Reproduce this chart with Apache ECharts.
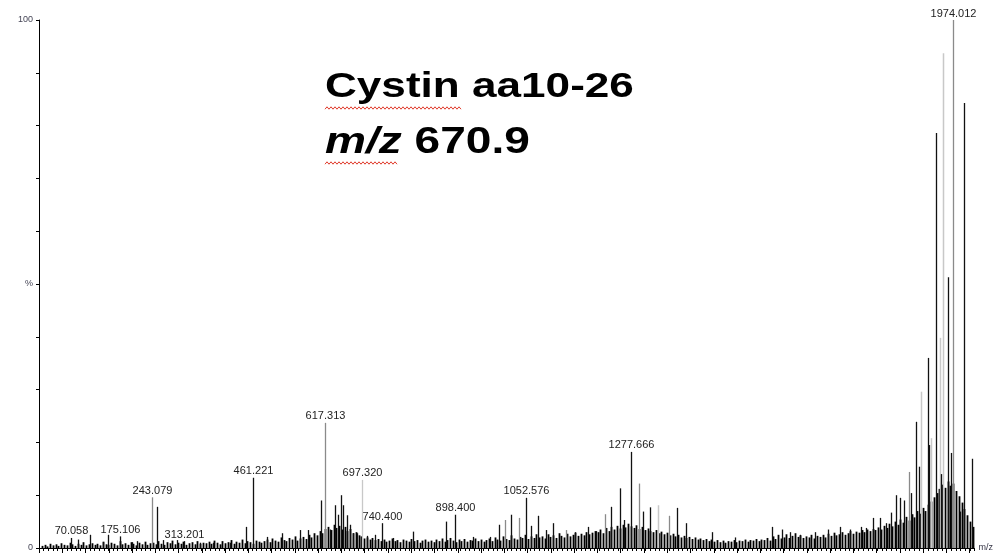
<!DOCTYPE html>
<html><head><meta charset="utf-8">
<script src="https://cdn.jsdelivr.net/npm/echarts@6/dist/echarts.min.js"></script>
<style>html,body{margin:0;padding:0;background:#fff}#c{width:996px;height:556px}</style>
</head><body><div id="c"></div>
<script>
// ---- data (m/z, relative intensity %) ----
const titleLine1 = 'Cystin aa10-26';
const titleMz = 'm/z';
const titleValue = '670.9';
const yTickLabels = {0: '0', 50: '%', 100: '100'};
const xAxisName = 'm/z';

// labelled peaks
const labeledPeaks = [[70.058,1.9],[175.106,2.2],[243.079,9.6],[313.201,1.3],[461.221,13.3],[617.313,23.7],[697.320,12.9],[740.400,4.7],[898.400,6.3],[1052.576,9.5],[1277.666,18.2],[1974.012,100]];
const labeledText = ['70.058','175.106','243.079','313.201','461.221','617.313','697.320','740.400','898.400','1052.576','1277.666','1974.012'];

// unlabelled sticks
const darkPeaks = [[84.0,1.6],[109.9,2.5],[138.0,1.1],[148.8,2.5],[200.6,1.1],[211.4,1.3],[254.6,7.8],[267.5,1.5],[297.7,1.5],[347.4,1.0],[375.4,1.0],[412.1,1.0],[446.7,4.0],[491.3,2.1],[523.7,2.8],[563.2,3.4],[580.5,3.4],[607.9,9.0],[628.0,3.5],[638.8,8.1],[645.2,6.3],[651.1,10.0],[656.7,8.1],[664.0,6.2],[671.1,4.4],[677.6,2.8],[685.6,2.8],[707.2,2.3],[725.1,2.5],[764.0,1.9],[807.1,3.1],
[879.9,5.0],[936.6,2.1],[973.3,2.1],[993.4,4.4],[1020.2,6.3],[1063.3,4.2],[1077.6,6.1],[1095.7,3.4],[1110.0,4.7],[1156.8,3.0],[1184.8,4.0],[1203.6,3.2],[1236.0,7.8],[1255.4,11.3],[1262.5,5.3],[1303.5,6.9],[1320.2,7.7],[1376.9,7.6],[1396.4,4.7],
[1452.5,3.0],[1502.2,2.0],[1582.0,4.0],[1603.6,3.5],[1620.9,3.0],[1642.5,2.5],[1674.9,3.0],[1703.0,3.5],[1728.9,4.0],[1750.5,3.5],
[1775.6,4.0],[1786.4,3.8],[1800.0,5.7],[1815.1,5.7],[1829.6,4.7],[1840.3,6.7],[1851.1,10.0],[1859.8,9.5],[1866.9,9.0],[1883.5,10.4],[1892.8,23.9],[1899.3,15.4],[1918.7,36.0],[1920.9,19.5],[1936.0,78.6],[1948.3,14.0],[1962.5,51.3],[1969.9,18.0],[1987.8,6.9],[1996.4,84.3],[2015.2,16.9]];
const greyPeaks = [[1005.7,5.3],[1036.6,5.7],[1138.9,3.4],[1221.5,6.4],[1294.9,12.2],[1359.7,6.1],[1877.7,14.4]];
const lightPeaks = [[1335.9,8.1],[1905.1,29.6],[1926.7,20.8],[1944.6,39.8],[1951.7,93.7]];

// baseline noise, read every 6 m/z starting at m/z 6
const noiseStartMz = 6;
const noiseStepMz = 6;
const noiseLevels = [
0.4,0.6,0.3,0.8,0.5,0.7,0.4,0.9,0.6,0.5,1.0,0.7,0.4,0.8,0.6,1.1,0.5,0.7,0.9,0.6,
0.8,0.5,1.2,0.7,0.6,1.0,0.8,0.5,1.3,0.7,0.9,0.6,1.1,0.8,0.5,1.0,0.7,1.2,0.6,0.9,
1.0,0.7,1.3,0.8,0.6,1.1,0.9,1.4,0.7,1.0,0.8,1.2,0.6,0.9,1.1,0.7,1.3,0.8,1.0,0.9,
1.2,0.8,1.4,1.0,0.7,1.3,0.9,1.1,1.5,0.8,1.2,1.0,1.6,0.9,1.3,1.1,0.8,1.4,1.2,1.0,
1.3,1.6,1.1,1.8,1.4,1.2,2.0,1.5,1.3,1.9,1.6,2.2,1.4,1.8,2.1,1.7,2.5,2.0,2.8,2.4,
3.2,2.8,3.6,4.0,3.4,4.4,3.8,4.2,3.5,4.0,3.2,3.6,2.8,3.0,2.4,2.2,1.8,2.0,1.6,1.9,
1.5,1.7,1.3,1.6,1.2,1.4,1.8,1.3,1.5,1.1,1.6,1.4,1.2,1.7,1.3,1.5,1.0,1.4,1.6,1.2,
1.4,1.1,1.6,1.3,1.8,1.2,1.5,1.9,1.4,1.1,1.6,1.3,1.7,1.2,1.5,1.4,1.8,1.3,1.6,1.2,
1.5,1.8,1.3,2.0,1.6,1.4,2.2,1.7,1.5,2.4,1.8,1.6,2.1,1.9,2.5,1.7,2.2,1.9,2.6,2.0,
2.2,1.8,2.6,2.1,2.4,1.9,2.8,2.3,2.0,2.7,2.2,2.5,2.9,2.3,2.7,2.4,3.0,2.6,2.9,3.2,
3.0,3.5,2.8,3.8,3.2,4.0,3.5,4.2,3.7,4.4,3.9,4.6,4.1,3.8,4.3,3.6,4.0,3.4,3.7,3.2,
3.0,3.4,2.8,3.1,2.6,2.9,2.4,2.7,2.2,2.5,2.0,2.3,1.9,2.1,1.7,2.0,1.6,1.8,1.5,1.7,
1.3,1.6,1.2,1.5,1.1,1.4,1.0,1.3,1.2,1.5,1.1,1.4,1.3,1.6,1.2,1.5,1.4,1.7,1.3,1.6,
1.5,1.9,1.4,2.2,1.7,2.5,1.8,2.0,2.6,1.9,2.3,2.8,2.1,2.4,1.9,2.2,2.0,2.5,1.8,2.3,
2.1,2.5,2.0,2.7,2.3,2.9,2.4,2.6,3.0,2.5,2.8,3.2,2.7,3.1,2.9,3.4,3.0,3.5,3.2,3.6,
3.4,3.9,3.5,4.2,3.8,4.6,4.1,5.0,4.4,5.4,4.8,5.9,5.2,6.4,5.8,7.0,6.5,7.6,7.0,8.2,
8.8,9.6,10.4,11.2,12.0,11.4,12.6,11.8,12.2,10.8,9.8,8.6,7.4,6.2,5.0,4.0];

// ---- chart ----
const noiseData = noiseLevels.map((v, i) => [noiseStartMz + i * noiseStepMz, v]);
const greyLabeledIdx = new Set([2, 5, 11]);
const lightLabeledIdx = new Set([6]);

function stick(color, width) {
  return function (params, api) {
    const p0 = api.coord([api.value(0), 0]);
    const p1 = api.coord([api.value(0), api.value(1)]);
    const x = Math.round(p0[0]) + 0.5;
    return {type: 'line', shape: {x1: x, y1: p0[1], x2: x, y2: p1[1]},
      style: {stroke: color, lineWidth: width}};
  };
}
function zig(x0, x1, y) {
  const pts = [];
  for (let x = x0, k = 0; x <= x1; x += 2, k++) pts.push([x, y + (k % 2 ? -1.2 : 1.2)]);
  return pts;
}

const chart = echarts.init(document.getElementById('c'), null, {renderer: 'canvas'});
chart.setOption({
  animation: false,
  backgroundColor: '#fff',
  grid: [
    {left: 39, right: 17, top: 20, bottom: 8},
    {left: 39, right: 26.3, top: 20, bottom: 8}
  ],
  xAxis: [{
    type: 'value', min: 0, max: 2020, interval: 10, gridIndex: 0,
    name: xAxisName, nameLocation: 'end', nameGap: 4,
    nameTextStyle: {fontSize: 9, color: '#334', fontFamily: 'Liberation Sans', verticalAlign: 'middle'},
    axisLine: {lineStyle: {color: '#000', width: 1}},
    axisTick: {show: true, inside: false, length: 3, lineStyle: {color: '#000'}},
    axisLabel: {show: false},
    splitLine: {show: false}
  }, {
    type: 'value', min: 0, max: 2000, interval: 50, gridIndex: 1,
    axisLine: {show: false},
    axisTick: {show: true, inside: false, length: 5, lineStyle: {color: '#000'}},
    axisLabel: {show: false},
    splitLine: {show: false}
  }],
  yAxis: [{
    type: 'value', min: 0, max: 100, interval: 10, offset: 3, gridIndex: 0,
    axisLine: {show: true, lineStyle: {color: '#000', width: 1}},
    axisTick: {show: true, length: 3, lineStyle: {color: '#000'}},
    axisLabel: {
      fontSize: 9, color: '#445', fontFamily: 'Liberation Sans', margin: 3,
      formatter: v => (yTickLabels[v] !== undefined ? yTickLabels[v] : '')
    },
    splitLine: {show: false}
  }, {
    type: 'value', min: 0, max: 100, gridIndex: 1, show: false
  }],
  series: [
    {type: 'custom', silent: true, data: noiseData, renderItem: stick('#000', 1.8)},
    {type: 'custom', silent: true, data: lightPeaks, renderItem: stick('#c8c8c8', 1.5)},
    {type: 'custom', silent: true, data: greyPeaks, renderItem: stick('#8a8a8a', 1.3)},
    {type: 'custom', silent: true, data: darkPeaks, renderItem: stick('#111', 1.3)},
    {type: 'custom', silent: true, data: labeledPeaks,
      renderItem: function (params, api) {
        const i = params.dataIndex;
        const p0 = api.coord([api.value(0), 0]);
        const p1 = api.coord([api.value(0), api.value(1)]);
        const x = Math.round(p0[0]) + 0.5;
        const col = lightLabeledIdx.has(i) ? '#c8c8c8' : (greyLabeledIdx.has(i) ? '#8a8a8a' : '#111');
        return {type: 'group', children: [
          {type: 'line', shape: {x1: x, y1: p0[1], x2: x, y2: p1[1]}, style: {stroke: col, lineWidth: 1.3}},
          {type: 'text', x: x, y: p1[1] - 1,
            style: {text: labeledText[i], fontSize: 11, fontFamily: 'Liberation Sans', fill: '#222',
              align: 'center', verticalAlign: 'bottom'}}
        ]};
      }}
  ],
  graphic: [
    {type: 'text', x: 325, y: 87, scaleX: 1.26,
      style: {text: titleLine1, font: 'bold 35px "Liberation Sans", Arial, sans-serif', fill: '#000', verticalAlign: 'middle'}},
    {type: 'text', x: 325, y: 143, scaleX: 1.28,
      style: {text: '{i|' + titleMz + '} {b|' + titleValue + '}', verticalAlign: 'middle', fill: '#000',
        font: 'bold 36px "Liberation Sans", Arial, sans-serif',
        rich: {i: {fontStyle: 'italic', fontWeight: 'bold', fontSize: 36, fontFamily: 'Liberation Sans'},
               b: {fontWeight: 'bold', fontSize: 36, fontFamily: 'Liberation Sans'}}}},
    {type: 'polyline', shape: {points: zig(325, 462, 108)}, style: {stroke: '#e03a2a', lineWidth: 1, fill: null}},
    {type: 'polyline', shape: {points: zig(325, 398, 163)}, style: {stroke: '#e03a2a', lineWidth: 1, fill: null}}
  ]
});
</script></body></html>
